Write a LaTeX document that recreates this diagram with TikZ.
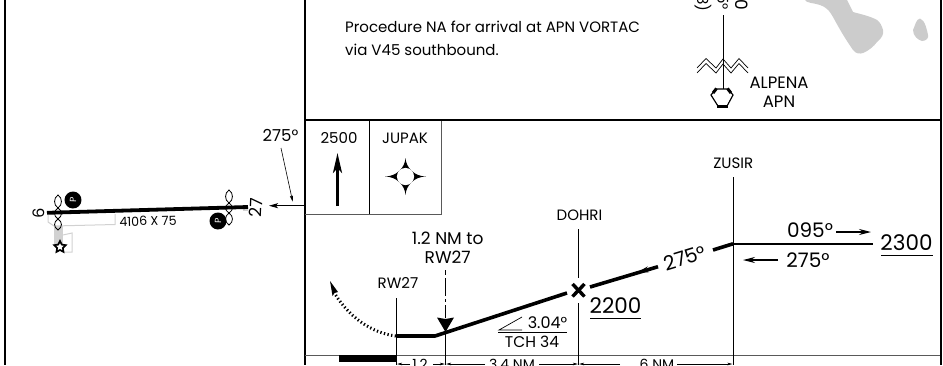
\documentclass[tikz,border=0pt]{standalone}
\usepackage{fontspec}
\setmainfont{Poppins}
\usetikzlibrary{arrows.meta,calc,shapes.geometric}
\definecolor{lakegray}{gray}{0.8}
\definecolor{padgray}{gray}{0.82}
\tikzset{
 x=1pt,y=-1pt,
 frame/.style={line width=2pt,black},
 thinframe/.style={line width=1pt,black!65},
 lbl/.style={inner sep=0pt,font=\fontsize{#1}{#1}\selectfont,align=center,text=black},
 lbl/.default=15,
 prof/.style={line width=3.6pt,black},
 tick/.style={line width=0.8pt,black},
 barb/.style={-{Stealth[length=12pt,width=6pt,inset=4pt]},line width=1.2pt},
 dimline/.style={line width=0.7pt,-{Stealth[length=5pt,width=2.5pt,inset=1pt]}},
 feather/.style={line width=0.8pt,black},
 blob/.style={circle,fill=black,minimum size=17pt,inner sep=0pt,text=white,font=\fontsize{9}{9}\selectfont},
}
\begin{document}
\begin{tikzpicture}
\useasboundingbox (0,0) rectangle (943,365);
% lakes
\fill[lakegray] (805,0) .. controls (806,3) and (814,3) .. (820,5) .. controls (828,8) and (830,12) .. (833,17) .. controls (840,30) and (846,40) .. (853,50) .. controls (856,54) and (860,54) .. (863,53) .. controls (870,50) and (874,46) .. (877,42) .. controls (882,38) and (884,34) .. (883,30) .. controls (882,26) and (880,22) .. (877,20) .. controls (870,16) and (860,14) .. (853,12) .. controls (851,8) and (849,4) .. (847,0) -- cycle;
\fill[lakegray] (920,18.5) .. controls (916,19) and (915,26) .. (913,30) .. controls (913,36) and (918,40) .. (922,41) .. controls (926,41) and (929,38) .. (928,35) .. controls (927,30) and (925,20) .. (920,18.5) -- cycle;
% frames
\draw[frame] (5,0) -- (5,365);
\draw[frame] (305,0) -- (305,365);
\draw[frame] (940.5,0) -- (940.5,365);
\draw[frame] (305,120) -- (940.5,120);
\draw[thinframe] (305,355) -- (940,355);
% MSA box
\draw[thinframe] (305,214) -- (441,214) -- (441,121);
\draw[tick,line width=1pt] (369.5,121) -- (369.5,214);
\node[lbl] (alt) at (339,138) {2500};
\node[lbl] (jup) at (405,138) {JUPAK};
\coordinate (upB) at (337.5,206);
\coordinate (upT) at (337.5,153);
\draw[line width=3pt,-{Stealth[length=20pt,width=9pt,inset=5pt]}] (upB) -- (upT);
\fill (385,176.5) .. controls (396,176.5) and (405,168) .. (405.5,158) .. controls (406,168) and (415,176.5) .. (426,176.5) .. controls (415,176.5) and (406,185) .. (405.5,195) .. controls (405,185) and (396,176.5) .. (385,176.5) -- cycle;
\fill[white] (405.5,176.5) circle (8.6pt);
% top text
\node[lbl,anchor=west] (note) at (345,40.5) {\begin{tabular}{@{}l@{}}Procedure NA for arrival at APN VORTAC\\[6.5pt]via V45 southbound.\end{tabular}};
% radial
\coordinate (radT) at (723,15);
\coordinate (radB) at (723,89);
\draw[line width=1pt] (radT) -- (radB);
\draw[line width=0.7pt] (697,68) -- (706,58.5) -- (716,68) -- (723,59) -- (731,68) -- (739,58.5) -- (748,68);
\draw[line width=0.7pt] (697,73) -- (706,63.5) -- (716,73) -- (723,64) -- (731,73) -- (739,63.5) -- (748,73);
\node[rotate=-90,lbl=15,anchor=east] (r1b) at (703,12) {(18)};
\node[rotate=-90,lbl=15,anchor=east] (r2) at (723,10) {095°};
\node[rotate=-90,lbl=17,anchor=east] (r3) at (742,10.5) {0};
% VORTAC symbol
\draw[line width=1.2pt] (716,89) -- (711,95) -- (718,106) -- (727,106) -- (733,95) -- (728,89) -- cycle;
\fill[white] (717,90) -- (712.5,95) -- (718.5,105) -- (726.5,105) -- (731.5,95) -- (727,90) -- cycle;
\draw[line width=3pt] (716.5,88.5) -- (713,93);
\draw[line width=3pt] (727.5,88.5) -- (731,93);
\fill (717,104.5) rectangle (727.5,107.5);
\node[lbl=16.5] (apn) at (779,92.5) {ALPENA\\[2.5pt]APN};
% profile labels
\node[lbl] (dohri) at (579.5,215) {DOHRI};
\node[lbl] (zusir) at (733.3,163) {ZUSIR};
\node[lbl] (rw27) at (398,283) {RW27};
\node[lbl=17] (onetwo) at (447.7,247.5) {1.2 NM to\\[2pt]RW27};
% verticals
\coordinate (zt) at (733,177); \coordinate (zb) at (733,365);
\coordinate (dt) at (578,229); \coordinate (dm) at (578,278);
\coordinate (dn) at (578,303); \coordinate (db) at (578,365);
\coordinate (rt) at (396.5,298); \coordinate (rb) at (396.5,365);
\coordinate (mt) at (445.5,270); \coordinate (ma) at (445.5,318);
\coordinate (mc) at (445.5,332); \coordinate (mb) at (445.5,365);
\draw[tick] (zt) -- (zb);
\draw[tick] (dt) -- (dm);
\draw[tick] (dn) -- (db);
\draw[tick] (rt) -- (rb);
\draw[tick,dash pattern=on 5pt off 3pt on 18pt off 3pt on 3pt off 3pt on 14pt] (mt) -- (ma);
\draw[tick] (mc) -- (mb);
% profile line
\coordinate (p0) at (396.5,336);
\coordinate (p1) at (435,336);
\coordinate (p2) at (567,293);
\coordinate (p3) at (590,287);
\coordinate (p4) at (658,266.7);
\coordinate (p5) at (713,250);
\coordinate (p6) at (733,243.8);
\draw[prof,line join=miter] (p0) -- (p1) -- (p2);
\draw[prof] (p3) -- (p4);
\draw[prof] (p5) -- (p6);
\draw[line width=2pt] (p6) -- (873,243.8);
\fill (437,317.5) -- (445.5,319) -- (454,317.5) -- (445.5,332) -- cycle;
% dotted arc
\draw[line width=3pt,dash pattern=on 1.3pt off 2.4pt] (396,336) .. controls (372,333) and (350,318) .. (335,294);
\fill (330,281) -- (338,292) -- (334.5,293) -- (332.5,296) -- cycle;
% fix cross
\draw[line width=3.4pt] (572.5,284) -- (584.5,296.5) (584.5,284) -- (572.5,296.5);
\node[lbl=21.5] (a2200) at (615.5,306) {2200};
\draw[line width=0.9pt] (590,318) -- (641,318);
\node[lbl=20,rotate=17] (c275a) at (685,258) {275°};
\draw[barb] (p4) -- (637,272.5);
\node[lbl=20] (c095) at (810,230) {095°};
\node[lbl=20] (c275b) at (808,260) {275°};
\node[lbl=21.5] (a2300) at (906.5,243) {2300};
\draw[line width=0.9pt] (881,255) -- (933,255);
\draw[barb] (836,232) -- (871,232);
\draw[barb] (778,260) -- (743,260);
% glide
\node[lbl=16] (gs) at (547.5,322.7) {3.04°};
\node[lbl=15.5] (tch) at (532,341.7) {TCH 34};
\draw[line width=0.7pt] (522,330) -- (499,330) -- (522,317);
\draw[line width=0.8pt] (498,332.5) -- (567,332.5);
% bottom strip
\fill (339,355) rectangle (396.5,361.5);
\node[lbl=14] (d1) at (420,364) {1.2};
\node[lbl=14] (d2) at (512,364) {3.4 NM};
\node[lbl=14] (d3) at (657,364) {6 NM};
\draw[dimline] (410,364) -- (397,364);
\draw[dimline] (433,364) -- (445,364);
\draw[dimline] (485,364) -- (446,364);
\draw[dimline] (539,364) -- (578,364);
\draw[dimline] (620,364) -- (579,364);
\draw[dimline] (677,364) -- (732.5,364);
% plan view
\node[lbl=16.5] (c275p) at (280.5,135) {275°};
\coordinate (arrR) at (305,205.7);
\coordinate (arrL) at (269,205.7);
\draw[line width=0.9pt,-{Stealth[length=9pt,width=5pt,inset=2pt]}] (arrR) -- (arrL);
\coordinate (noteT) at (281,148);
\coordinate (noteB) at (292.7,201.7);
\draw[line width=0.6pt,-{Stealth[length=6pt,width=3pt,inset=1pt]}] (noteT) -- (noteB);
\coordinate (rwL) at (47,212.8);
\coordinate (rwR) at (248,207);
\fill[padgray] (54,226) rectangle (63,244);
\draw[padgray,line width=1pt] (48,215) -- (48,222) -- (54,226) -- (115,224.5) -- (115,214);
\draw[padgray,line width=1pt] (63,235) -- (72,233) -- (72,252) -- (65,252);
\fill[padgray] (243,208) rectangle (248,211);
\draw[line width=3.8pt] (rwL) -- (rwR);
\node[lbl=12.6,rotate=1.5] (len) at (148,221) {4106 X 75};
\node[lbl=16,rotate=88] (six) at (39,213.5) {6};
\node[lbl=17,rotate=88] (n27) at (256,208) {27};
\node[blob,rotate=88] (pL) at (73,200) {P};
\node[blob,rotate=88] (pR) at (218,221) {P};
\foreach \cx/\ya/\yb in {58/195/208,58/208/219,58/219/230,229/190/203,229/203/213,229/213/225}{
 \draw[feather] (\cx,\ya) .. controls (\cx+4.6,\ya+3) and (\cx+4.6,\yb-3) .. (\cx,\yb) .. controls (\cx-4.6,\yb-3) and (\cx-4.6,\ya+3) .. (\cx,\ya) -- cycle;
}
\node[star,star points=5,star point ratio=2,draw,fill=white,line width=1.7pt,minimum size=12pt,inner sep=0pt] (star) at (60,247) {};
\end{tikzpicture}
\end{document}
